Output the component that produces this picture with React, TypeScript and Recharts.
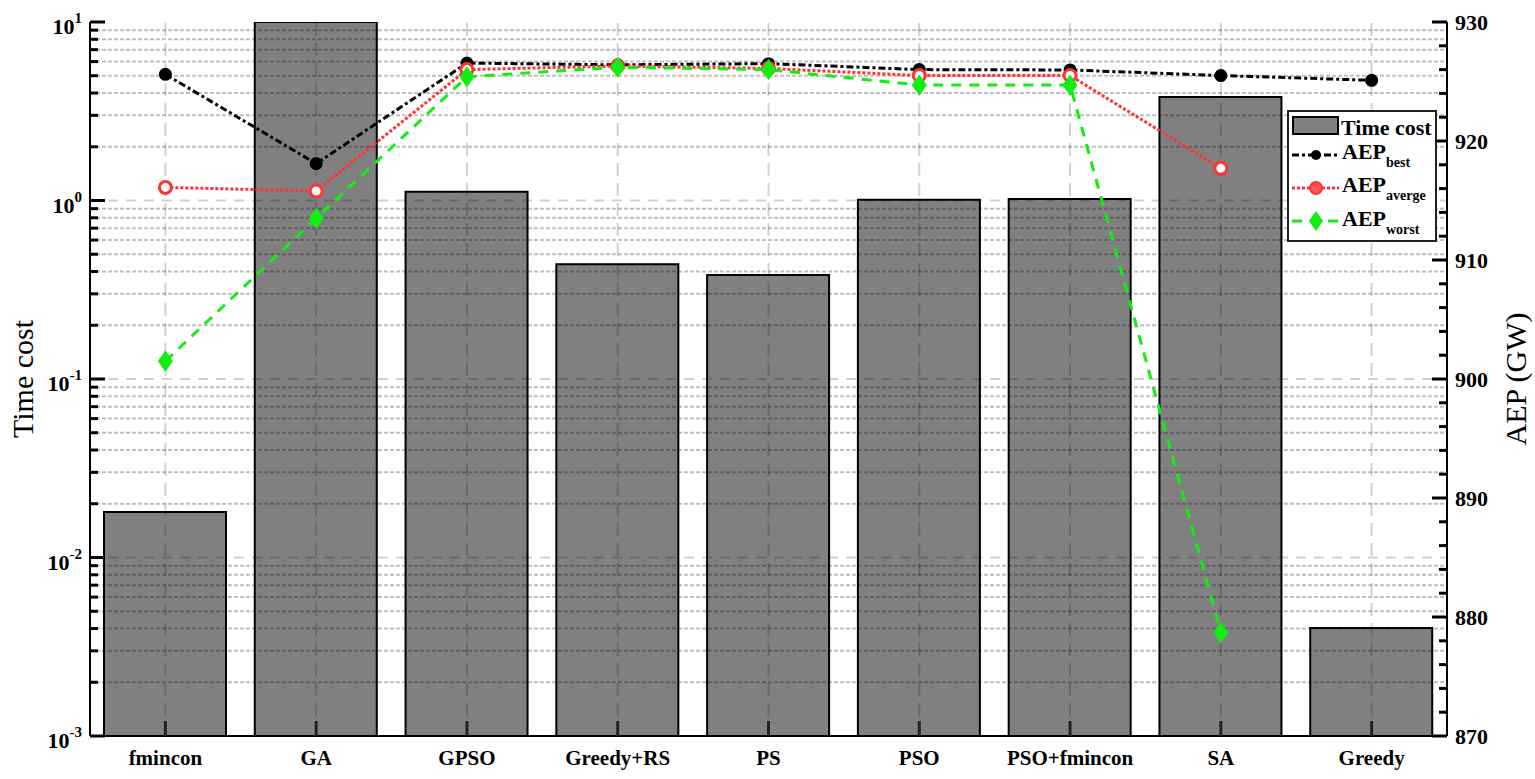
import React from 'react';
import { ComposedChart, Bar, Line, XAxis, YAxis, ReferenceLine, Legend } from 'recharts';

const methods = ['fmincon', 'GA', 'GPSO', 'Greedy+RS', 'PS', 'PSO', 'PSO+fmincon', 'SA', 'Greedy'];
const timeCost = [0.018, 10, 1.12, 0.44, 0.383, 1.01, 1.02, 3.8, 0.00403];
const aepBest = [925.6, 918.1, 926.55, 926.4, 926.5, 926.0, 925.97, 925.5, 925.1];
const aepAverage = [916.1, 915.8, 926.0, 926.3, 926.1, 925.5, 925.5, 917.7, null];
const aepWorst = [901.5, 913.5, 925.4, 926.2, 926.0, 924.7, 924.7, 878.7, null];

const logDecades = [0.001, 0.01, 0.1, 1, 10];
const minorSteps = [2, 3, 4, 5, 6, 7, 8, 9];
const aepTicks = [870, 872, 874, 876, 878, 880, 882, 884, 886, 888, 890, 892, 894, 896, 898, 900,
  902, 904, 906, 908, 910, 912, 914, 916, 918, 920, 922, 924, 926, 928, 930];
const aepMajor = [870, 880, 890, 900, 910, 920, 930];

const minorLogValues: number[] = [];
logDecades.slice(0, -1).forEach((d) => minorSteps.forEach((m) => minorLogValues.push(+(d * m).toPrecision(3))));
const logTicks = [...logDecades, ...minorLogValues].sort((a, b) => a - b);

const data = methods.map((m, i) => ({
  method: m,
  time: timeCost[i],
  best: aepBest[i],
  avg: aepAverage[i],
  worst: aepWorst[i],
}));

const FONT = '"Liberation Serif", "Times New Roman", serif';
const GREEN = '#11ee11';
const RED = '#ff3333';
const W = 1535;
const H = 779;
const MARGIN = { top: 22, right: 0, bottom: 0, left: 0 };

const LogTick = (props: any) => {
  const { x, y, payload } = props;
  const v = payload.value;
  const exp = Math.round(Math.log10(v));
  const major = logDecades.includes(v);
  return (
    <g>
      <line x1={x} x2={x + (major ? 15 : 8)} y1={y} y2={y} stroke="#000" strokeWidth={3} />
      {major && (
        <text x={x - 8} y={y} textAnchor="end" fontFamily={FONT} fontWeight="bold" fill="#000">
          <tspan fontSize={22} dy={12}>10</tspan>
          <tspan fontSize={15} dy={-11}>{exp}</tspan>
        </text>
      )}
    </g>
  );
};

const AepTick = (props: any) => {
  const { x, y, payload } = props;
  const major = aepMajor.includes(payload.value);
  return (
    <g>
      <line x1={x} x2={x - (major ? 15 : 8)} y1={y} y2={y} stroke="#000" strokeWidth={3} />
      {major && (
        <text x={x + 8} y={y + 8} fontFamily={FONT} fontWeight="bold" fontSize={22} fill="#000">
          {payload.value}
        </text>
      )}
    </g>
  );
};

const BottomTick = (props: any) => {
  const { x, y, payload } = props;
  return (
    <g>
      <line x1={x} x2={x} y1={y} y2={y - 15} stroke="#222" strokeWidth={3} />
      <text x={x} y={y + 29} textAnchor="middle" fontFamily={FONT} fontWeight="bold" fontSize={21} fill="#000">
        {payload.value}
      </text>
    </g>
  );
};

const TopTick = (props: any) => {
  const { x, y } = props;
  return <line x1={x} x2={x} y1={y} y2={y + 15} stroke="#222" strokeWidth={3} />;
};

const AxisTitle = (props: any) => {
  const { viewBox, text, offsetX } = props;
  const cx = viewBox.x + offsetX;
  const cy = viewBox.y + viewBox.height / 2;
  return (
    <text x={cx} y={cy} transform={`rotate(-90 ${cx} ${cy})`} textAnchor="middle" dominantBaseline="central"
      fontFamily={FONT} fontSize={30} fill="#000">
      {text}
    </text>
  );
};

const Diamond = (props: any) => {
  const { cx, cy, index } = props;
  if (cx == null || cy == null) return <g key={`d-${index}`} />;
  return (
    <path key={`d-${index}`} d={`M${cx},${cy - 10}L${cx + 7},${cy}L${cx},${cy + 10}L${cx - 7},${cy}Z`}
      fill={GREEN} stroke={GREEN} strokeWidth={1} />
  );
};

const LegendBox = () => (
  <svg width={150} height={132} style={{ display: 'block' }}>
    <rect x={1} y={1} width={148} height={130} fill="#fff" stroke="#222" strokeWidth={2} />
    <rect x={6} y={7} width={45} height={17} fill="#808080" stroke="#000" strokeWidth={2} />
    <text x={54} y={25} fontFamily={FONT} fontWeight="bold" fontSize={22}>Time cost</text>

    <line x1={5} x2={52} y1={45} y2={45} stroke="#000" strokeWidth={3} strokeDasharray="7 3 3 3" />
    <circle cx={29} cy={45} r={5} fill="#000" />
    <text x={55} y={49} fontFamily={FONT} fontWeight="bold" fontSize={22}>
      AEP<tspan fontSize={14} dy={8}>best</tspan>
    </text>

    <line x1={5} x2={52} y1={78} y2={78} stroke={RED} strokeWidth={3} strokeDasharray="3 2" />
    <circle cx={29} cy={78} r={6} fill="#ff5555" stroke={RED} strokeWidth={2} />
    <text x={55} y={82} fontFamily={FONT} fontWeight="bold" fontSize={22}>
      AEP<tspan fontSize={14} dy={8}>averge</tspan>
    </text>

    <line x1={5} x2={52} y1={111} y2={111} stroke={GREEN} strokeWidth={3} strokeDasharray="10 8" />
    <path d="M29,101L36,111L29,121L22,111Z" fill={GREEN} />
    <text x={55} y={116} fontFamily={FONT} fontWeight="bold" fontSize={22}>
      AEP<tspan fontSize={14} dy={8}>worst</tspan>
    </text>
  </svg>
);

// shared axis set; the lower layer keeps the same scales but draws nothing
const axes = (visible: boolean) => [
  <XAxis key="xb" dataKey="method" type="category" scale="band" height={43} interval={0} tickSize={0}
    tickMargin={0} axisLine={visible ? { stroke: '#000', strokeWidth: 2 } : false} tickLine={false}
    tick={visible ? <BottomTick /> : false} />,
  <XAxis key="xt" xAxisId="top" dataKey="method" type="category" scale="band" orientation="top" height={0}
    interval={0} tickSize={0} tickMargin={0} axisLine={visible ? { stroke: '#000', strokeWidth: 2 } : false}
    tickLine={false} tick={visible ? <TopTick /> : false} />,
  <YAxis key="yl" yAxisId="left" type="number" scale="log" domain={[0.001, 10]} allowDataOverflow ticks={logTicks}
    interval={0} width={90} tickSize={0} tickMargin={0} tickLine={false}
    axisLine={visible ? { stroke: '#000', strokeWidth: 2 } : false} tick={visible ? <LogTick /> : false}
    label={visible ? <AxisTitle text="Time cost" offsetX={22} /> : undefined} />,
  <YAxis key="yr" yAxisId="right" orientation="right" type="number" domain={[870, 930]} allowDataOverflow
    ticks={aepTicks} interval={0} width={88} tickSize={0} tickMargin={0} tickLine={false}
    axisLine={visible ? { stroke: '#000', strokeWidth: 2 } : false} tick={visible ? <AepTick /> : false}
    label={visible ? <AxisTitle text="AEP (GW)" offsetX={68} /> : undefined} />,
];

export default function App() {
  return (
    <div style={{ position: 'relative', width: W, height: H }}>
      <style>{`body{margin:0}`}</style>

      {/* bars underneath, so the grid can be drawn across them */}
      <div style={{ position: 'absolute', left: 0, top: 0, zIndex: 0 }}>
        <ComposedChart width={W} height={H} data={data} margin={MARGIN}>
          {axes(false)}
          <Bar yAxisId="left" dataKey="time" name="Time cost" barSize={122} fill="#808080"
            stroke="#000" strokeWidth={2} isAnimationActive={false} />
        </ComposedChart>
      </div>

      <div style={{ position: 'absolute', left: 0, top: 0, zIndex: 1 }}>
        <ComposedChart width={W} height={H} data={data} margin={MARGIN} style={{ fontFamily: FONT }}>
          {axes(true)}

          {minorLogValues.map((v) => (
            <ReferenceLine key={`mn-${v}`} yAxisId="left" y={v} stroke="rgba(0,0,0,0.25)" strokeWidth={2}
              strokeDasharray="4 2" />
          ))}
          {logDecades.slice(1, -1).map((v) => (
            <ReferenceLine key={`mj-${v}`} yAxisId="left" y={v} stroke="rgba(0,0,0,0.18)" strokeWidth={2}
              strokeDasharray="10 8" />
          ))}
          {methods.map((m) => (
            <ReferenceLine key={`v-${m}`} yAxisId="left" x={m} stroke="rgba(0,0,0,0.18)" strokeWidth={2}
              strokeDasharray="13 7" />
          ))}

          <Line yAxisId="right" dataKey="best" name="AEP best" stroke="#000" strokeWidth={3}
            strokeDasharray="7 3 3 3" dot={{ r: 5, fill: '#000', stroke: '#000', strokeDasharray: '0' }}
            isAnimationActive={false} />
          <Line yAxisId="right" dataKey="avg" name="AEP averge" stroke={RED} strokeWidth={3}
            strokeDasharray="3 2" dot={{ r: 6, fill: '#fff', stroke: RED, strokeWidth: 3, strokeDasharray: '0' }}
            isAnimationActive={false} />
          <Line yAxisId="right" dataKey="worst" name="AEP worst" stroke={GREEN} strokeWidth={3}
            strokeDasharray="10 8" dot={<Diamond />} isAnimationActive={false} />

          <Legend layout="horizontal" verticalAlign="middle" align="center" content={<LegendBox />}
            wrapperStyle={{ left: 1287, top: 110, width: 150, height: 132 }} />
        </ComposedChart>
      </div>
    </div>
  );
}
